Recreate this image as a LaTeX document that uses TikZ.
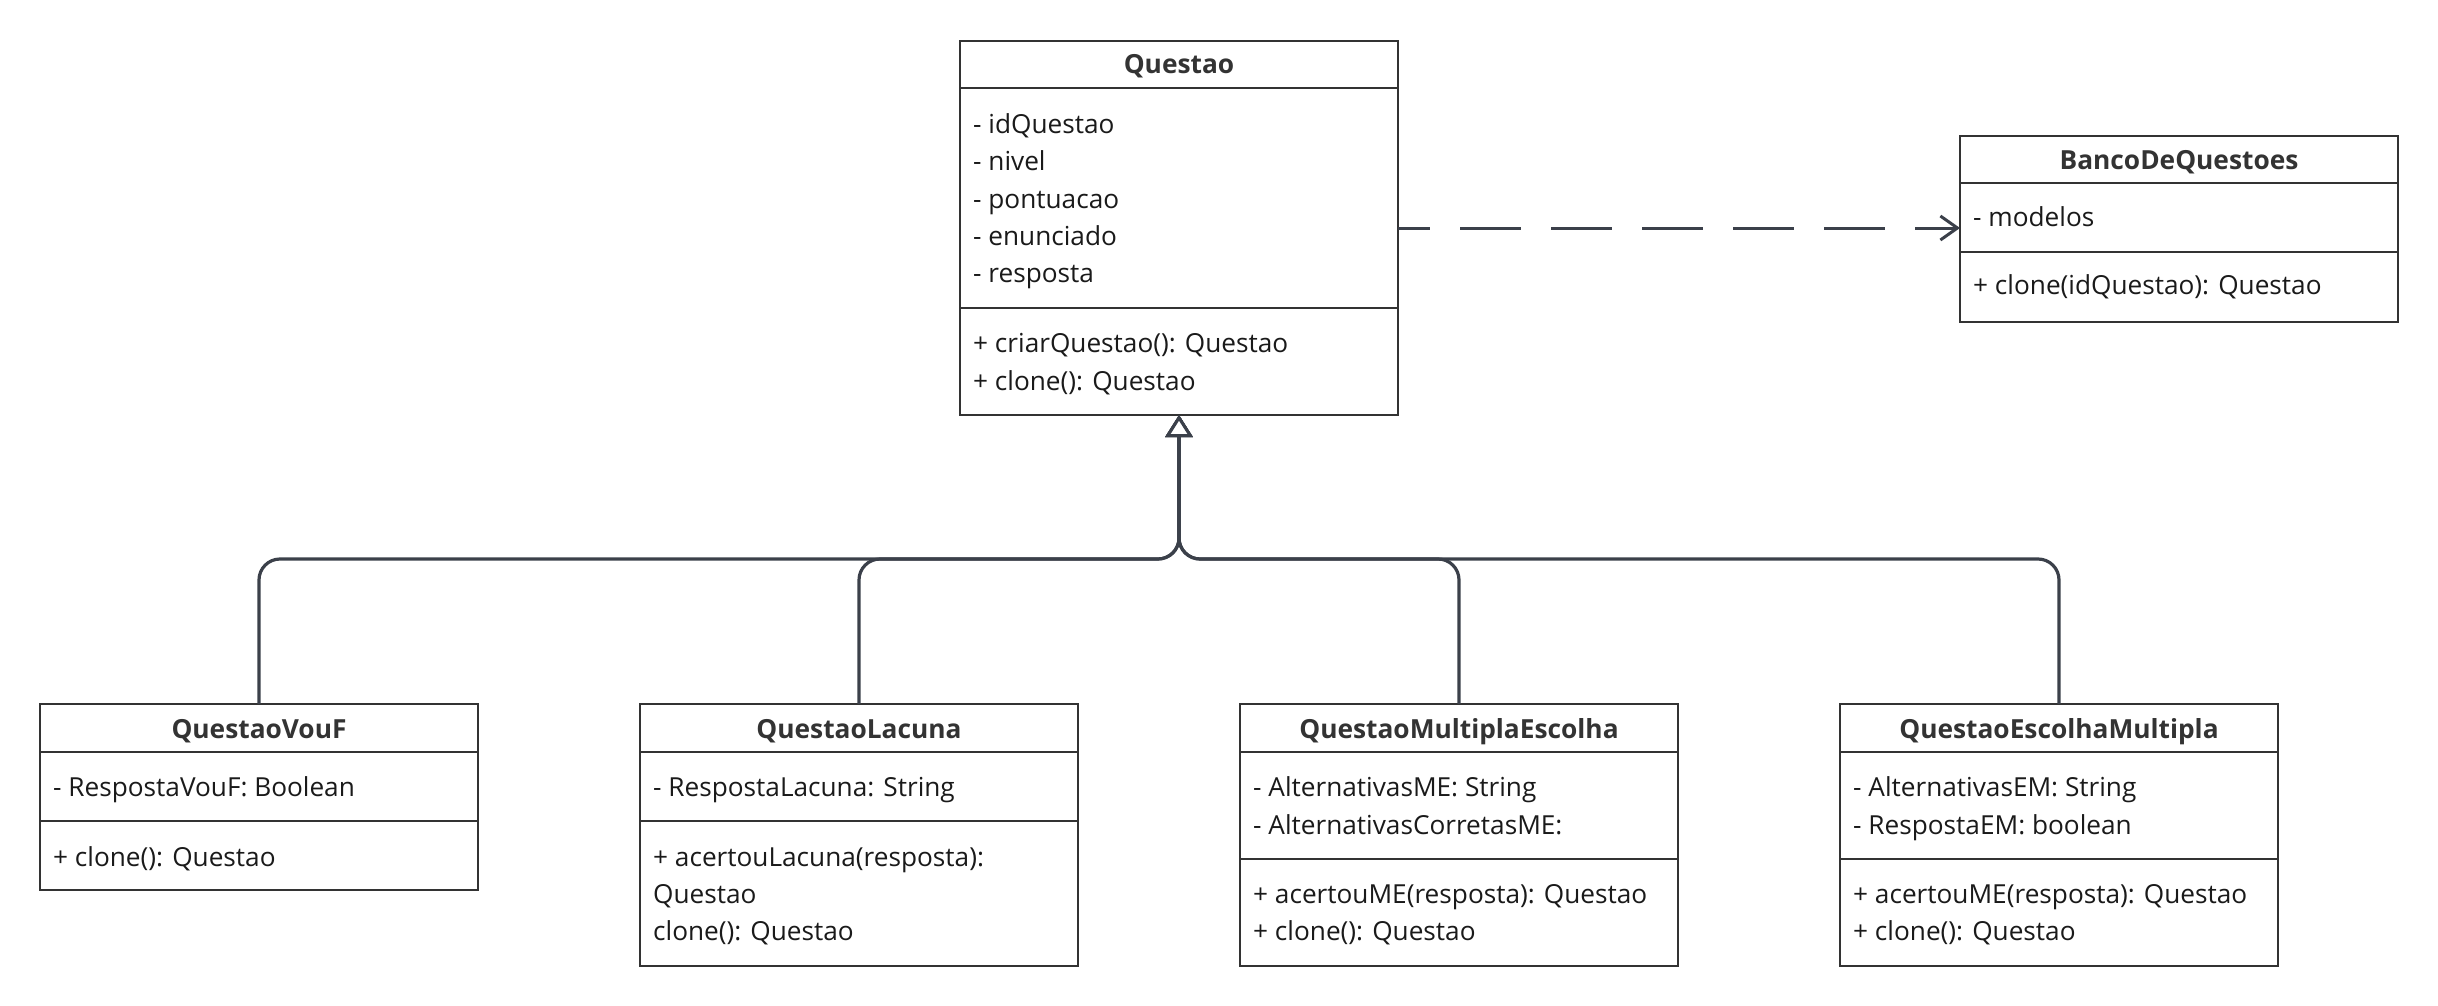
\documentclass[tikz,border=0pt]{standalone}
\usepackage{fontspec}
\setmainfont{Open Sans}
\usetikzlibrary{arrows.meta}
\definecolor{boxc}{HTML}{333333}
\definecolor{edgec}{HTML}{3B404A}
\definecolor{txtc}{HTML}{1A1A1A}
\begin{document}
\begin{tikzpicture}[x=1pt,y=-1pt,
  classbox/.style={draw=boxc, line width=2.7pt, fill=white, rectangle,
    minimum width=438pt, inner sep=0pt, outer sep=0pt, anchor=north west},
  divider/.style={draw=boxc, line width=2.7pt},
  hdr/.style={anchor=base, inner sep=0pt, text=boxc, font=\fontsize{26.3pt}{30pt}\selectfont\bfseries},
  mem/.style={anchor=base west, inner sep=0pt, text=txtc, font=\fontsize{26.2pt}{30pt}\selectfont},
  inh/.style={draw=edgec, line width=3.2pt, rounded corners=21pt,
    -{Triangle[fill=white, length=22pt, width=27pt, line width=3pt]}},
  dep/.style={draw=edgec, line width=3pt, dash pattern=on 61pt off 30pt, dash phase=29pt,
    -{Straight Barb[length=17pt, width=24pt, line width=3pt]}}
]
\useasboundingbox (0,0) rectangle (2438,1006);

% ---------- Questao ----------
\node[classbox, minimum height=374pt] (q) at (960,41) {};
\draw[divider] ([yshift=-47pt]q.north west) -- ([yshift=-47pt]q.north east);
\draw[divider] ([yshift=-267pt]q.north west) -- ([yshift=-267pt]q.north east);
\node[hdr] (qh) at (1179,73.3) {Questao};
\node[mem] (qa1) at (973,133.3) {- idQuestao};
\node[mem] (qa2) at (973,170.7) {- nivel};
\node[mem] (qa3) at (973,208) {- pontuacao};
\node[mem] (qa4) at (973,245.3) {- enunciado};
\node[mem] (qa5) at (973,282.7) {- resposta};
\node[mem] (qm1) at (973,352.7) {+ criarQuestao(): Questao};
\node[mem] (qm2) at (973,390) {+ clone(): Questao};

% ---------- BancoDeQuestoes ----------
\node[classbox, minimum height=186pt] (banco) at (1960,136) {};
\draw[divider] ([yshift=-47pt]banco.north west) -- ([yshift=-47pt]banco.north east);
\draw[divider] ([yshift=-116pt]banco.north west) -- ([yshift=-116pt]banco.north east);
\node[hdr] (bh) at (2179,169) {BancoDeQuestoes};
\node[mem] (ba1) at (1973,226.7) {- modelos};
\node[mem] (bm1) at (1973,294.3) {+ clone(idQuestao): Questao};

% ---------- QuestaoVouF ----------
\node[classbox, minimum height=186pt] (vouf) at (40,704) {};
\draw[divider] ([yshift=-48pt]vouf.north west) -- ([yshift=-48pt]vouf.north east);
\draw[divider] ([yshift=-117pt]vouf.north west) -- ([yshift=-117pt]vouf.north east);
\node[hdr] (vh) at (259,738.3) {QuestaoVouF};
\node[mem] (va1) at (53,796.7) {- RespostaVouF: Boolean};
\node[mem] (vm1) at (53,866) {+ clone(): Questao};

% ---------- QuestaoLacuna ----------
\node[classbox, minimum height=262pt] (lac) at (640,704) {};
\draw[divider] ([yshift=-48pt]lac.north west) -- ([yshift=-48pt]lac.north east);
\draw[divider] ([yshift=-117pt]lac.north west) -- ([yshift=-117pt]lac.north east);
\node[hdr] (lh) at (859,738.3) {QuestaoLacuna};
\node[mem] (la1) at (653,796.7) {- RespostaLacuna: String};
\node[mem] (lm1) at (653,866) {+ acertouLacuna(resposta):};
\node[mem] (lm2) at (653,903.3) {Questao};
\node[mem] (lm3) at (653,940.3) {clone(): Questao};

% ---------- QuestaoMultiplaEscolha ----------
\node[classbox, minimum height=262pt] (me) at (1240,704) {};
\draw[divider] ([yshift=-48pt]me.north west) -- ([yshift=-48pt]me.north east);
\draw[divider] ([yshift=-155pt]me.north west) -- ([yshift=-155pt]me.north east);
\node[hdr] (mh) at (1459,738.3) {QuestaoMultiplaEscolha};
\node[mem] (ma1) at (1253,796.7) {- AlternativasME: String};
\node[mem] (ma2) at (1253,834) {- AlternativasCorretasME:};
\node[mem] (mm1) at (1253,903.3) {+ acertouME(resposta): Questao};
\node[mem] (mm2) at (1253,940.3) {+ clone(): Questao};

% ---------- QuestaoEscolhaMultipla ----------
\node[classbox, minimum height=262pt] (em) at (1840,704) {};
\draw[divider] ([yshift=-48pt]em.north west) -- ([yshift=-48pt]em.north east);
\draw[divider] ([yshift=-155pt]em.north west) -- ([yshift=-155pt]em.north east);
\node[hdr] (eh) at (2059,738.3) {QuestaoEscolhaMultipla};
\node[mem] (ea1) at (1853,796.7) {- AlternativasEM: String};
\node[mem] (ea2) at (1853,834) {- RespostaEM: boolean};
\node[mem] (em1) at (1853,903.3) {+ acertouME(resposta): Questao};
\node[mem] (em2) at (1853,940.3) {+ clone(): Questao};

% ---------- connectors ----------
\coordinate (bus) at (0,559);
\draw[inh] (vouf.north) -- (vouf.north |- bus) -- (q.south |- bus) -- (q.south);
\draw[inh] (lac.north) -- (lac.north |- bus) -- (q.south |- bus) -- (q.south);
\draw[inh] (me.north) -- (me.north |- bus) -- (q.south |- bus) -- (q.south);
\draw[inh] (em.north) -- (em.north |- bus) -- (q.south |- bus) -- (q.south);
\draw[dep] (q.east) -- (q.east -| banco.west);
\end{tikzpicture}
\end{document}
